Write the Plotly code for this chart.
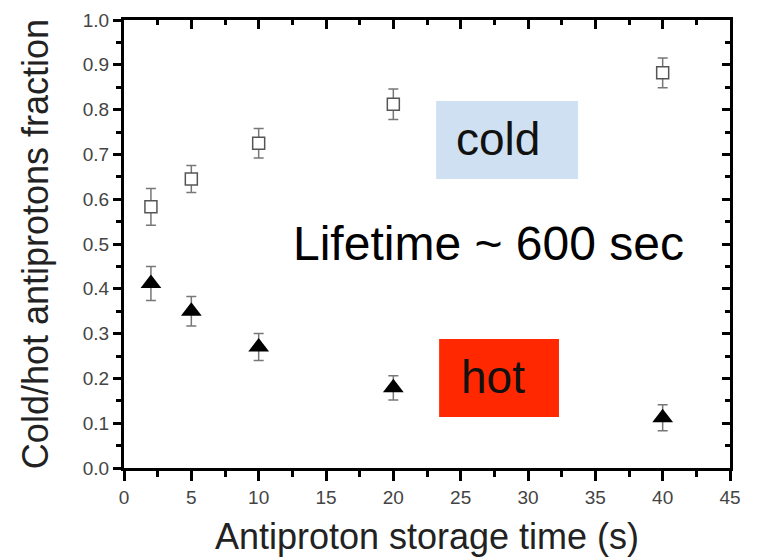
import plotly.graph_objects as go

# Storage times (s) and measured fractions with their uncertainties
storage_time = [2, 5, 10, 20, 40]
cold_fraction = [0.583, 0.645, 0.725, 0.812, 0.882]
cold_error = [0.041, 0.030, 0.033, 0.034, 0.033]
hot_fraction = [0.412, 0.350, 0.270, 0.179, 0.112]
hot_error = [0.038, 0.033, 0.030, 0.027, 0.029]

x_ticks = [0, 5, 10, 15, 20, 25, 30, 35, 40, 45]
y_ticks = [0.0, 0.1, 0.2, 0.3, 0.4, 0.5, 0.6, 0.7, 0.8, 0.9, 1.0]

FONT = "Liberation Sans, Arial, sans-serif"

fig = go.Figure()

fig.add_trace(go.Scatter(
    x=storage_time, y=cold_fraction, mode="markers", name="cold",
    marker=dict(symbol="square", size=12, color="white",
                line=dict(color="#555555", width=1.5)),
    error_y=dict(type="data", array=cold_error, visible=True,
                 color="#777777", thickness=1.5, width=5),
))
fig.add_trace(go.Scatter(
    x=storage_time, y=hot_fraction, mode="markers", name="hot",
    marker=dict(symbol="triangle-up", size=18, color="black",
                line=dict(color="black", width=0)),
    error_y=dict(type="data", array=hot_error, visible=True,
                 color="#777777", thickness=1.5, width=5),
))
# invisible trace that carries the top / right frame axes
fig.add_trace(go.Scatter(
    x=storage_time, y=hot_fraction, xaxis="x2", yaxis="y2",
    mode="markers", marker=dict(opacity=0), hoverinfo="skip",
    showlegend=False,
))

# label panels
fig.add_shape(type="rect", x0=23.18, x1=33.72, y0=0.645, y1=0.819,
              fillcolor="#cfe0f2", line=dict(width=0), layer="below")
fig.add_shape(type="rect", x0=23.4, x1=32.3, y0=0.114, y1=0.288,
              fillcolor="#ff2800", line=dict(width=0), layer="below")

fig.add_annotation(x=27.78, y=0.735, text="cold", showarrow=False,
                   font=dict(family=FONT, size=46, color="#111111"))
fig.add_annotation(x=27.37, y=0.203, text="hot", showarrow=False,
                   font=dict(family=FONT, size=46, color="#111111"))
fig.add_annotation(x=27.1, y=0.502, text="Lifetime ~ 600 sec",
                   showarrow=False,
                   font=dict(family=FONT, size=48, color="#000000"))

axis_common = dict(showgrid=False, zeroline=False, showline=True,
                   linecolor="black", linewidth=3, tickcolor="black",
                   tickwidth=2.5, automargin=False)

fig.update_layout(
    width=757, height=557,
    margin=dict(l=124, r=27, t=20, b=89),
    paper_bgcolor="white", plot_bgcolor="white",
    showlegend=False,
    xaxis=dict(
        **axis_common, range=[0, 45], tickvals=x_ticks,
        ticks="outside", ticklen=10,
        minor=dict(ticks="outside", ticklen=6, dtick=2.5, tick0=0,
                   tickwidth=2.5, tickcolor="black"),
        tickfont=dict(family=FONT, size=19, color="#444444"),
        title=dict(text="Antiproton storage time (s)", standoff=24,
                   font=dict(family=FONT, size=36, color="#222222")),
    ),
    yaxis=dict(
        **axis_common, range=[0, 1.0], tickvals=y_ticks, tickformat=".1f",
        ticks="outside", ticklen=8, ticklabelstandoff=0,
        minor=dict(ticks="outside", ticklen=5, dtick=0.05, tick0=0,
                   tickwidth=2.5, tickcolor="black"),
        tickfont=dict(family=FONT, size=19, color="#444444"),
        title=dict(text="Cold/hot antiprotons fraction", standoff=24,
                   font=dict(family=FONT, size=36, color="#222222")),
    ),
    xaxis2=dict(
        **axis_common, range=[0, 45], tickvals=x_ticks, overlaying="x",
        side="top", anchor="y2", ticks="inside", ticklen=9,
        showticklabels=False,
        minor=dict(ticks="inside", ticklen=5, dtick=2.5, tick0=0,
                   tickwidth=2.5, tickcolor="black"),
    ),
    yaxis2=dict(
        **axis_common, range=[0, 1.0], tickvals=y_ticks, overlaying="y",
        side="right", anchor="x2", ticks="inside", ticklen=8,
        showticklabels=False,
        minor=dict(ticks="inside", ticklen=5, dtick=0.05, tick0=0,
                   tickwidth=2.5, tickcolor="black"),
    ),
)

fig.write_html("out.html")
